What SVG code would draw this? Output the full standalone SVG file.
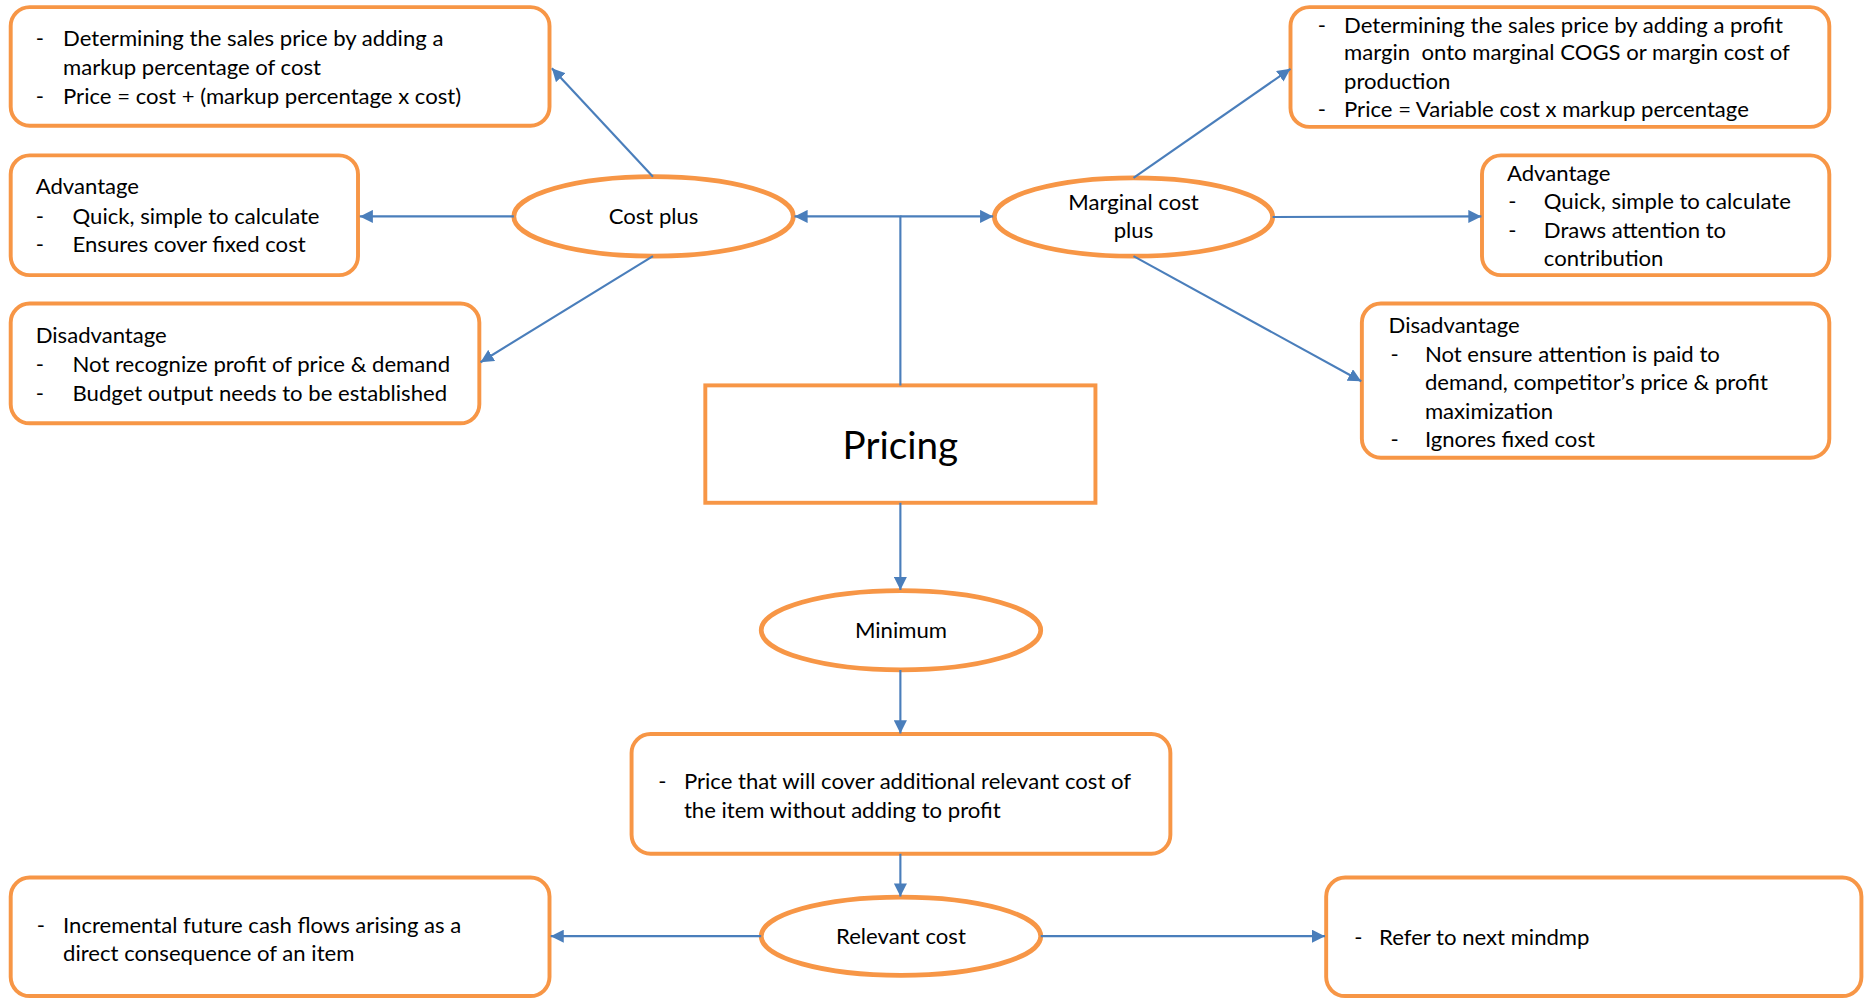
<svg xmlns="http://www.w3.org/2000/svg" width="1865" height="1002" viewBox="0 0 1865 1002">
<style>
.box{fill:#fff;stroke:#F79646;stroke-width:3.3}
.ell{fill:#fff;stroke:#F79646;stroke-width:4}
.t{font-family:Lato,"Open Sans",sans-serif;font-size:18.6px;fill:#000}
.m{text-anchor:middle}
.big{font-size:32.5px}
.c{stroke:#4A7EBB;stroke-width:1.8;fill:none;marker-end:url(#ah)}
</style>
<defs>
<marker id="ah" markerUnits="userSpaceOnUse" markerWidth="12" markerHeight="11" refX="11" refY="5.5" orient="auto">
<path d="M0,0 L11,5.5 L0,11 z" fill="#4A7EBB"/>
</marker>
</defs>
<rect width="1865" height="1002" fill="#fff"/>
<g transform="scale(1.1894,1.1858)">
<g id="cost-def">
<rect class="box" x="9" y="6" width="453" height="100" rx="16"/>
<text class="t" x="30" y="39">-</text><text class="t" x="53" y="39">Determining the sales price by adding a</text>
<text class="t" x="53" y="63.5">markup percentage of cost</text>
<text class="t" x="30" y="88">-</text><text class="t" x="53" y="88">Price = cost + (markup percentage x cost)</text>
</g>
<g id="cost-adv">
<rect class="box" x="9" y="131" width="292" height="101" rx="16"/>
<text class="t" x="30" y="164">Advantage</text>
<text class="t" x="30" y="188.5">-</text><text class="t" x="61" y="188.5">Quick, simple to calculate</text>
<text class="t" x="30" y="212.5">-</text><text class="t" x="61" y="212.5">Ensures cover fixed cost</text>
</g>
<g id="cost-dis">
<rect class="box" x="9" y="256" width="394" height="101" rx="16"/>
<text class="t" x="30" y="289">Disadvantage</text>
<text class="t" x="30" y="313.5">-</text><text class="t" x="61" y="313.5">Not recognize profit of price &amp; demand</text>
<text class="t" x="30" y="338">-</text><text class="t" x="61" y="338">Budget output needs to be established</text>
</g>
<g id="cost-plus">
<ellipse class="ell" cx="549.5" cy="182.5" rx="117.5" ry="33.5"/>
<text class="t m" x="549.5" y="189">Cost plus</text>
</g>
<g id="pricing">
<rect class="box" x="593" y="325" width="328" height="99"/>
<text class="t m big" x="757" y="387">Pricing</text>
</g>
<g id="marginal">
<ellipse class="ell" cx="953" cy="183" rx="117" ry="33"/>
<text class="t m" x="953" y="177">Marginal cost</text>
<text class="t m" x="953" y="201">plus</text>
</g>
<g id="marg-def">
<rect class="box" x="1085" y="6" width="453" height="101" rx="16"/>
<text class="t" x="1108" y="27.5">-</text><text class="t" x="1130" y="27.5">Determining the sales price by adding a profit</text>
<text class="t" x="1130" y="51" xml:space="preserve">margin  onto marginal COGS or margin cost of</text>
<text class="t" x="1130" y="75">production</text>
<text class="t" x="1108" y="99">-</text><text class="t" x="1130" y="99">Price = Variable cost x markup percentage</text>
</g>
<g id="marg-adv">
<rect class="box" x="1246" y="131" width="292" height="101" rx="16"/>
<text class="t" x="1267" y="152.5">Advantage</text>
<text class="t" x="1268" y="176.5">-</text><text class="t" x="1298" y="176.5">Quick, simple to calculate</text>
<text class="t" x="1268" y="200.5">-</text><text class="t" x="1298" y="200.5">Draws attention to</text>
<text class="t" x="1298" y="224.5">contribution</text>
</g>
<g id="marg-dis">
<rect class="box" x="1145" y="256" width="393" height="130" rx="16"/>
<text class="t" x="1167.5" y="280.5">Disadvantage</text>
<text class="t" x="1169" y="305">-</text><text class="t" x="1198" y="305">Not ensure attention is paid to</text>
<text class="t" x="1198" y="329">demand, competitor’s price &amp; profit</text>
<text class="t" x="1198" y="353">maximization</text>
<text class="t" x="1169" y="377">-</text><text class="t" x="1198" y="377">Ignores fixed cost</text>
</g>
<g id="minimum">
<ellipse class="ell" cx="757.5" cy="531.5" rx="117.5" ry="33.5"/>
<text class="t m" x="757.5" y="538">Minimum</text>
</g>
<g id="min-def">
<rect class="box" x="531" y="619" width="453" height="101" rx="16"/>
<text class="t" x="553.5" y="665.5">-</text><text class="t" x="575" y="665.5">Price that will cover additional relevant cost of</text>
<text class="t" x="575" y="690">the item without adding to profit</text>
</g>
<g id="relevant">
<ellipse class="ell" cx="757.5" cy="789.5" rx="117.5" ry="33"/>
<text class="t m" x="757.5" y="796">Relevant cost</text>
</g>
<g id="rel-def">
<rect class="box" x="9" y="740" width="453" height="100" rx="16"/>
<text class="t" x="31" y="786.5">-</text><text class="t" x="53" y="786.5">Incremental future cash flows arising as a</text>
<text class="t" x="53" y="810.5">direct consequence of an item</text>
</g>
<g id="rel-next">
<rect class="box" x="1115" y="740" width="450" height="100" rx="16"/>
<text class="t" x="1138.5" y="797">-</text><text class="t" x="1159.5" y="797">Refer to next mindmp</text>
</g>
<g id="connectors">
<path class="c" d="M757,325 V182.5 H668"/>
<path class="c" d="M757,182.5 H835"/>
<path class="c" d="M549,149 L464,57.5"/>
<path class="c" d="M432,182.5 H302.5"/>
<path class="c" d="M549,216 L404,305.5"/>
<path class="c" d="M953,150 L1085,58"/>
<path class="c" d="M1070,183 L1245.5,182.5"/>
<path class="c" d="M953,216 L1144.5,321.5"/>
<path class="c" d="M757,424 V497.5"/>
<path class="c" d="M757,565 V618.5"/>
<path class="c" d="M757,720 V756"/>
<path class="c" d="M640,789.5 H463"/>
<path class="c" d="M875,789.5 H1114"/>
</g>
</g>
</svg>
